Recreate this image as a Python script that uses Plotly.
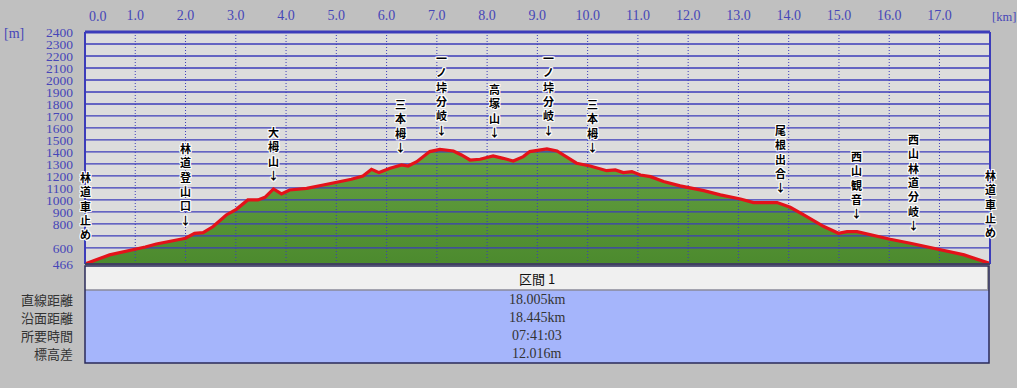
import plotly.graph_objects as go

# ---------------- data ----------------
km = [0.00, 0.10, 0.25, 0.49, 0.70, 0.95, 1.20, 1.42, 1.70, 2.00, 2.18, 2.35, 2.55, 2.81,
      3.01, 3.24, 3.44, 3.58, 3.75, 3.91, 4.07, 4.41, 4.74, 5.07, 5.30, 5.53, 5.70, 5.85,
      6.07, 6.30, 6.43, 6.60, 6.86, 7.06, 7.33, 7.49, 7.66, 7.86, 8.12, 8.32, 8.52, 8.72,
      8.85, 9.19, 9.39, 9.78, 10.05, 10.38, 10.55, 10.71, 10.88, 11.05, 11.25, 11.51,
      11.84, 12.31, 12.64, 13.04, 13.30, 13.77, 14.03, 14.30, 14.70, 14.99, 15.16, 15.36,
      15.63, 16.02, 16.42, 16.96, 17.49, 18.005]
elev = [466, 480, 505, 542, 560, 583, 608, 633, 655, 681, 722, 728, 778, 875,
        922, 1000, 1000, 1022, 1092, 1050, 1083, 1097, 1125, 1150, 1172, 1200, 1256, 1228,
        1264, 1292, 1283, 1319, 1403, 1422, 1408, 1375, 1333, 1339, 1367, 1347, 1325, 1361,
        1403, 1425, 1408, 1306, 1283, 1244, 1250, 1228, 1236, 1208, 1194, 1153,
        1117, 1078, 1042, 1008, 978, 978, 939, 875, 778, 722, 736, 736,
        708, 672, 639, 592, 542, 470]

wp_names = ["林道車止め", "林道登山口", "大栂山", "三本栂", "一ノ垰分岐", "高塚山",
            "一ノ垰分岐", "三本栂", "尾根出合", "西山観音", "西山林道分岐", "林道車止め"]
wp_km = [0.0, 2.0, 3.75, 6.27, 7.10, 8.14, 9.23, 10.09, 13.83, 15.35, 16.48, 18.005]
wp_label_elev = [633, 750, 1125, 1358, 1500, 1483, 1500, 1358, 1025, 808, 708, 650]
wp_arrow = [False, True, True, True, True, True, True, True, True, True, True, False]

x_ticks = [float(i) for i in range(1, 18)]
x_ticktext = ["%.1f" % v for v in x_ticks]
y_ticks = [466, 600, 700, 800, 900, 1000, 1100, 1200, 1300, 1400, 1500, 1600, 1700,
           1800, 1900, 2000, 2100, 2200, 2300, 2400]
y_ticktext = ["466", "600", "", "800", "900", "1000", "1100", "1200", "1300", "1400",
              "1500", "1600", "1700", "1800", "1900", "2000", "2100", "2200", "2300", "2400"]
y_grid = [v for v in y_ticks if v > 466]

row_labels = ["直線距離", "沿面距離", "所要時間", "標高差"]
section_header = "区間 1"
section_values = ["18.005km", "18.445km", "07:41:03", "12.016m"]

X_MAX = 18.005
Y_MIN, Y_MAX = 466, 2400

# ---------------- layout helpers ----------------
W, H = 1017, 388
def fx(p):
    return p / W
def fy(p):
    return 1 - p / H

BLUE = "#3c3cba"
TICK_BLUE = "#4646b8"
TBL_L, TBL_R = 85, 989
HDR_T, HDR_B, TBL_B = 266, 290, 363
ROW_H = (TBL_B - HDR_B) / len(section_values)

fig = go.Figure()

# terrain fill
fig.add_trace(go.Scatter(
    x=km, y=elev, mode="lines", line=dict(width=0, color="rgba(0,0,0,0)"),
    fill="tozeroy",
    fillgradient=dict(type="vertical", colorscale=[[0, "#4c8a2e"], [1, "#66a242"]],
                      start=Y_MIN, stop=1430),
    hoverinfo="skip", showlegend=False))

# horizontal grid lines (above fill)
gx, gy = [], []
for v in y_grid:
    gx += [0, X_MAX, None]
    gy += [v, v, None]
fig.add_trace(go.Scatter(x=gx, y=gy, mode="lines", line=dict(color=BLUE, width=1.3),
                         hoverinfo="skip", showlegend=False))
# vertical dotted grid lines
vx, vy = [], []
for v in x_ticks:
    vx += [v, v, None]
    vy += [Y_MIN, Y_MAX, None]
fig.add_trace(go.Scatter(x=vx, y=vy, mode="lines",
                         line=dict(color=BLUE, width=1, dash="1px,2px"),
                         hoverinfo="skip", showlegend=False))

# track line
fig.add_trace(go.Scatter(x=km, y=elev, mode="lines",
                         line=dict(color="#e4121a", width=3.2),
                         hoverinfo="skip", showlegend=False))

halo = ("1px 0 0 #fff, -1px 0 0 #fff, 0 1px 0 #fff, 0 -1px 0 #fff, "
        "1px 1px 0 #fff, -1px -1px 0 #fff, 1px -1px 0 #fff, -1px 1px 0 #fff")

annotations = []
for name, xk, ye, arr in zip(wp_names, wp_km, wp_label_elev, wp_arrow):
    chars = list(name) + (["↓"] if arr else [])
    annotations.append(dict(
        x=xk, y=ye, xref="x", yref="y", text="<br>".join(chars), showarrow=False,
        xanchor="center", yanchor="bottom", align="center",
        font=dict(family="Noto Sans CJK JP", size=11, color="#000000",
                  weight=700, shadow=halo)))

# 0.0 label and unit labels
annotations.append(dict(x=0, y=fy(17), xref="x", yref="paper", text="0.0",
                        showarrow=False, xanchor="left", yanchor="middle", xshift=2,
                        font=dict(family="Liberation Serif", size=14, color=TICK_BLUE)))
annotations.append(dict(x=fx(990), y=fy(17), xref="paper", yref="paper", text="[km]",
                        showarrow=False, xanchor="left", yanchor="middle",
                        font=dict(family="Liberation Serif", size=12.5, color=TICK_BLUE)))
annotations.append(dict(x=fx(2), y=fy(33), xref="paper", yref="paper", text="[m]",
                        showarrow=False, xanchor="left", yanchor="middle",
                        font=dict(family="Liberation Serif", size=14, color=TICK_BLUE)))

# table texts
annotations.append(dict(x=fx((TBL_L + TBL_R) / 2), y=fy((HDR_T + HDR_B) / 2),
                        xref="paper", yref="paper", text=section_header, showarrow=False,
                        xanchor="center", yanchor="middle",
                        font=dict(family="Noto Sans CJK JP", size=13, color="#111111")))
for i, (lab, val) in enumerate(zip(row_labels, section_values)):
    yc = fy(HDR_B + ROW_H * (i + 0.5))
    annotations.append(dict(x=fx(75), y=yc, xref="paper", yref="paper", text=lab,
                            showarrow=False, xanchor="right", yanchor="middle",
                            font=dict(family="Noto Sans CJK JP", size=13, color="#333333")))
    annotations.append(dict(x=fx((TBL_L + TBL_R) / 2), y=yc, xref="paper", yref="paper",
                            text=val, showarrow=False, xanchor="center", yanchor="middle",
                            font=dict(family="Liberation Serif", size=14, color="#333333")))

shapes = [
    # table header and body
    dict(type="rect", xref="paper", yref="paper", x0=fx(TBL_L), x1=fx(TBL_R),
         y0=fy(HDR_B), y1=fy(HDR_T), fillcolor="#f0f0f0", line=dict(width=0), layer="below"),
    dict(type="rect", xref="paper", yref="paper", x0=fx(TBL_L), x1=fx(TBL_R),
         y0=fy(TBL_B), y1=fy(HDR_B), fillcolor="#a5b5fb", line=dict(width=0), layer="below"),
    dict(type="line", xref="paper", yref="paper", x0=fx(TBL_L), x1=fx(TBL_R),
         y0=fy(HDR_B), y1=fy(HDR_B), line=dict(color="#8a8a9a", width=1.5)),
    dict(type="line", xref="paper", yref="paper", x0=fx(TBL_R - 1), x1=fx(TBL_R - 1),
         y0=fy(HDR_B), y1=fy(HDR_T), line=dict(color="#a0a0a0", width=2)),
    dict(type="rect", xref="paper", yref="paper", x0=fx(TBL_L), x1=fx(TBL_R),
         y0=fy(TBL_B), y1=fy(HDR_T), line=dict(color="#2a2a5a", width=1.5)),
    # plot frame
    dict(type="line", xref="x domain", yref="y domain", x0=0, x1=1, y0=1, y1=1,
         line=dict(color=BLUE, width=3)),
    dict(type="line", xref="x domain", yref="y domain", x0=0, x1=0, y0=0, y1=1,
         line=dict(color=BLUE, width=2)),
    dict(type="line", xref="x domain", yref="y domain", x0=1, x1=1, y0=0, y1=1,
         line=dict(color=BLUE, width=2)),
    dict(type="line", xref="x domain", yref="y domain", x0=0, x1=1, y0=0, y1=0,
         line=dict(color="#404060", width=2)),
]

fig.update_layout(
    width=W, height=H, margin=dict(l=0, r=0, t=0, b=0, autoexpand=False),
    paper_bgcolor="#c0c0c0", plot_bgcolor="#dcdcdc",
    showlegend=False,
    xaxis=dict(domain=[fx(85), fx(990)], range=[0, X_MAX], side="top",
               tickvals=x_ticks, ticktext=x_ticktext, showgrid=False, zeroline=False,
               showline=False, ticks="", ticklabelstandoff=8, fixedrange=True,
               automargin=False,
               tickfont=dict(family="Liberation Serif", size=14, color=TICK_BLUE)),
    yaxis=dict(domain=[fy(264), fy(32)], range=[Y_MIN, Y_MAX],
               tickvals=y_ticks, ticktext=y_ticktext, showgrid=False, zeroline=False,
               showline=False, ticks="", ticklabelstandoff=11, fixedrange=True,
               automargin=False,
               tickfont=dict(family="Liberation Serif", size=13.5, color=TICK_BLUE)),
    annotations=annotations, shapes=shapes,
)

fig.write_html("out.html")
